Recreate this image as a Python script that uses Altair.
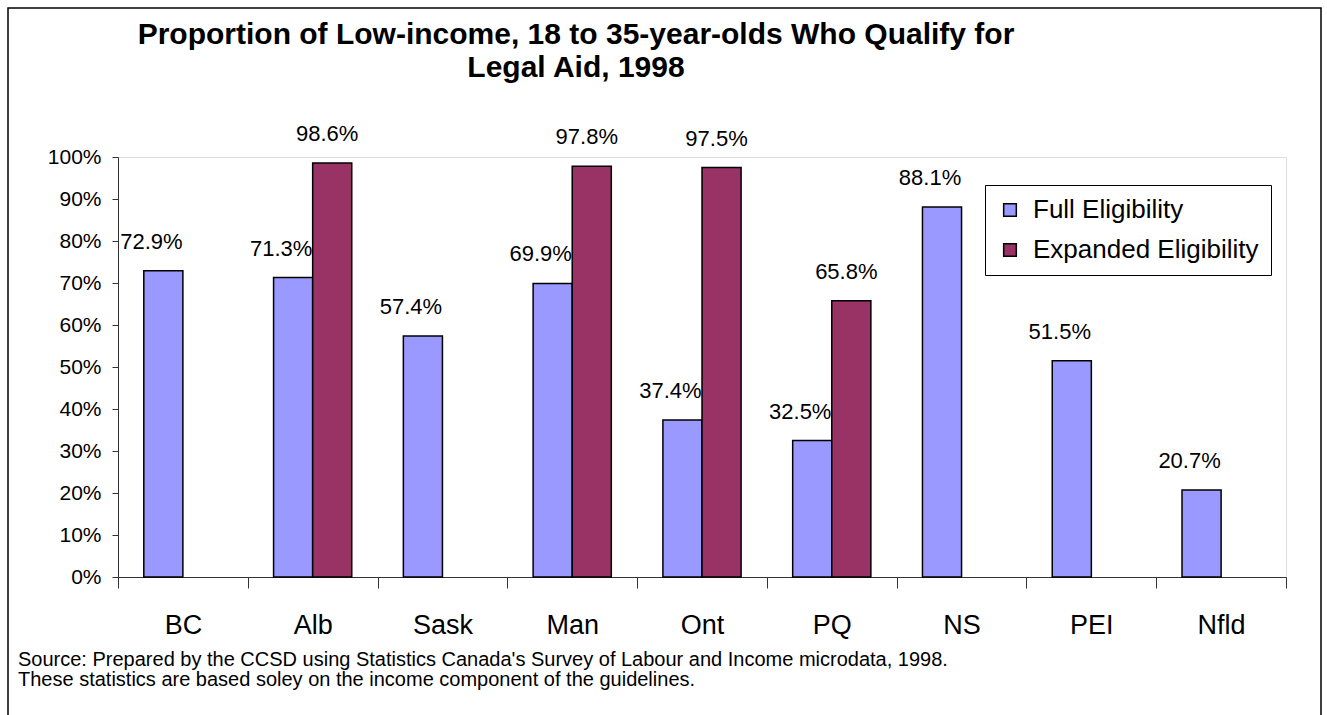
import altair as alt
import pandas as pd

categories = ["BC", "Alb", "Sask", "Man", "Ont", "PQ", "NS", "PEI", "Nfld"]
full_values = [72.9, 71.3, 57.4, 69.9, 37.4, 32.5, 88.1, 51.5, 20.7]
expanded_values = [None, 98.6, None, 97.8, 97.5, 65.8, None, None, None]
series_names = ["Full Eligibility", "Expanded Eligibility"]
series_colors = ["#9999FF", "#993366"]
y_ticks = [0.0, 0.1, 0.2, 0.3, 0.4, 0.5, 0.6, 0.7, 0.8, 0.9, 1.0]
title_lines = [
    "Proportion of Low-income, 18 to 35-year-olds Who Qualify for",
    "Legal Aid, 1998",
]
source_lines = [
    "Source: Prepared by the CCSD using Statistics Canada's Survey of Labour and Income microdata, 1998.",
    "These statistics are based soley on the income component of the guidelines.",
]

rows = []
for prov, f, e in zip(categories, full_values, expanded_values):
    rows.append({"province": prov, "series": series_names[0], "value": f / 100})
    if e is not None:
        rows.append({"province": prov, "series": series_names[1], "value": e / 100})
df = pd.DataFrame(rows)

FONT = "Liberation Sans"

x_enc = alt.X(
    "province:N",
    sort=categories,
    scale=alt.Scale(paddingInner=0, paddingOuter=0),
    axis=alt.Axis(
        title=None, labelAngle=0, tickBand="extent", labelFontSize=27,
        labelPadding=24, tickSize=11, labelColor="black",
        domainColor="#333333", tickColor="#333333", labelFont=FONT,
    ),
)
xoff_enc = alt.XOffset(
    "series:N", sort=series_names,
    scale=alt.Scale(domain=series_names, paddingInner=0, paddingOuter=0.66),
)
y_enc = alt.Y(
    "value:Q",
    scale=alt.Scale(domain=[0, 1]),
    axis=alt.Axis(
        title=None, values=y_ticks, format=".0%", grid=False, labelFontSize=21,
        tickSize=6, labelPadding=11, labelColor="black",
        domainColor="#333333", tickColor="#333333", labelFont=FONT,
    ),
)

base = alt.Chart(df)

bars = base.mark_bar(stroke="black", strokeWidth=1.5).encode(
    x=x_enc,
    xOffset=xoff_enc,
    y=y_enc,
    color=alt.Color(
        "series:N",
        sort=series_names,
        scale=alt.Scale(domain=series_names, range=series_colors),
        legend=alt.Legend(
            title=None, orient="none", legendX=867, legendY=28,
            labelFontSize=26, labelFont=FONT, labelColor="black", labelLimit=400,
            symbolType="square", symbolSize=160, symbolStrokeColor="black",
            symbolStrokeWidth=1.5, symbolOpacity=1,
            strokeColor="black", fillColor="white", padding=12,
            labelOffset=10, rowPadding=14,
        ),
    ),
)

labels_full = base.transform_filter(
    alt.datum.series == series_names[0]
).mark_text(fontSize=22, font=FONT, baseline="middle", dy=-29, dx=-12, color="black").encode(
    x=alt.X("province:N", sort=categories),
    xOffset=alt.XOffset("series:N", sort=series_names),
    y=alt.Y("value:Q"),
    text=alt.Text("value:Q", format=".1%"),
)
labels_exp = base.transform_filter(
    alt.datum.series == series_names[1]
).mark_text(fontSize=22, font=FONT, baseline="middle", dy=-29, dx=-5, color="black").encode(
    x=alt.X("province:N", sort=categories),
    xOffset=alt.XOffset("series:N", sort=series_names),
    y=alt.Y("value:Q"),
    text=alt.Text("value:Q", format=".1%"),
)

title = alt.Chart(pd.DataFrame({"line": [title_lines]})).mark_text(
    align="center", baseline="alphabetic", fontSize=30, fontWeight="bold",
    font=FONT, color="black", lineHeight=33,
).encode(
    x=alt.value(458),
    y=alt.value(-113),
    text="line:N",
)

source = alt.Chart(pd.DataFrame({"line": [source_lines]})).mark_text(
    align="left", baseline="alphabetic", fontSize=20, font=FONT, color="black",
    lineHeight=20,
).encode(
    x=alt.value(-100),
    y=alt.value(509),
    text="line:N",
)

frame = alt.Chart(pd.DataFrame({"a": [0]})).mark_rect(
    fillOpacity=0, stroke="black", strokeWidth=1.5
).encode(
    x=alt.value(-110), x2=alt.value(1203), y=alt.value(-149), y2=alt.value(562)
)

chart = alt.layer(frame, title, bars, labels_full, labels_exp, source).properties(
    width=1168,
    height=420,
    autosize=alt.AutoSizeParams(type="none"),
    padding={"left": 118, "top": 157, "right": 41, "bottom": 138},
).configure_view(strokeOpacity=0).configure(font=FONT, background="white")

chart.save("out.html", embed_options={"renderer": "svg", "actions": False})
